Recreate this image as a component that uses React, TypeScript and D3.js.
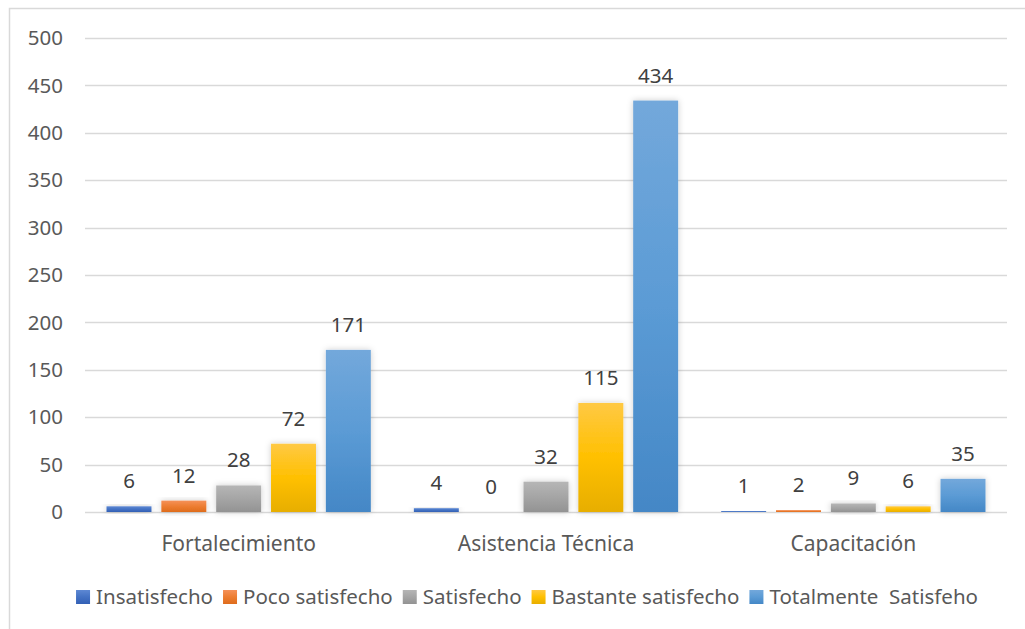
import React, { useEffect, useRef } from 'react';
import * as d3 from 'd3';

const categories = ['Fortalecimiento', 'Asistencia Técnica', 'Capacitación'];
const seriesNames = ['Insatisfecho', 'Poco satisfecho', 'Satisfecho', 'Bastante satisfecho', 'Totalmente  Satisfeho'];
const insatisfecho = [6, 4, 1];
const pocoSatisfecho = [12, 0, 2];
const satisfecho = [28, 32, 9];
const bastanteSatisfecho = [72, 115, 6];
const totalmenteSatisfecho = [171, 434, 35];
const yTicks = [0, 50, 100, 150, 200, 250, 300, 350, 400, 450, 500];

const seriesValues = [insatisfecho, pocoSatisfecho, satisfecho, bastanteSatisfecho, totalmenteSatisfecho];

// top / middle / bottom of each bar gradient
const gradients = [
    ['#5D88D3', '#4472C4', '#3360B5'],
    ['#F59159', '#ED7D31', '#DE6C1C'],
    ['#B6B6B6', '#A5A5A5', '#939393'],
    ['#FFC944', '#FFC000', '#E7AE00'],
    ['#73A8DB', '#5B9BD5', '#4487C6']
];

const WIDTH = 1025;
const HEIGHT = 629;
const FONT = '"Noto Sans", "Open Sans", sans-serif';

const App = () => {
    const svgRef = useRef<SVGSVGElement | null>(null);

    useEffect(() => {
        if (!svgRef.current) return;
        const svg = d3.select(svgRef.current);
        svg.selectAll('*').remove();

        const margin = { top: 38, right: 18, bottom: 117, left: 85 };
        const plotBottom = HEIGHT - margin.bottom;

        const x0 = d3.scaleBand()
            .domain(categories)
            .range([margin.left, WIDTH - margin.right])
            .paddingInner(0.14)
            .paddingOuter(0.07);

        const x1 = d3.scaleBand()
            .domain(seriesNames)
            .range([0, x0.bandwidth()])
            .paddingInner(0.18);

        const y = d3.scaleLinear()
            .domain([0, 500])
            .range([plotBottom, margin.top]);

        const defs = svg.append('defs');
        gradients.forEach((g, i) => {
            const lg = defs.append('linearGradient')
                .attr('id', `grad${i}`)
                .attr('x1', 0).attr('y1', 0).attr('x2', 0).attr('y2', 1);
            lg.append('stop').attr('offset', '0%').attr('stop-color', g[0]);
            lg.append('stop').attr('offset', '50%').attr('stop-color', g[1]);
            lg.append('stop').attr('offset', '100%').attr('stop-color', g[2]);
        });
        const shadow = defs.append('filter')
            .attr('id', 'barShadow')
            .attr('x', '-30%').attr('y', '-30%').attr('width', '160%').attr('height', '160%');
        shadow.append('feDropShadow')
            .attr('dx', 0).attr('dy', 0)
            .attr('stdDeviation', 3)
            .attr('flood-color', '#000')
            .attr('flood-opacity', 0.2);

        // chart frame
        svg.append('rect')
            .attr('x', 9.5).attr('y', 8.5)
            .attr('width', WIDTH + 20).attr('height', HEIGHT + 20)
            .attr('fill', '#fff')
            .attr('stroke', '#d9d9d9')
            .attr('stroke-width', 1.5);

        // gridlines
        svg.append('g')
            .selectAll('line')
            .data(yTicks)
            .join('line')
            .attr('x1', margin.left)
            .attr('x2', WIDTH - margin.right)
            .attr('y1', d => Math.round(y(d)) + 0.5)
            .attr('y2', d => Math.round(y(d)) + 0.5)
            .attr('stroke', '#d9d9d9')
            .attr('stroke-width', 1.5);

        // y tick labels
        svg.append('g')
            .selectAll('text')
            .data(yTicks)
            .join('text')
            .attr('x', margin.left - 22)
            .attr('y', d => y(d))
            .attr('dy', '0.35em')
            .attr('text-anchor', 'end')
            .attr('fill', '#595959')
            .style('font-family', FONT)
            .style('font-size', '20.5px')
            .text(d => d);

        // bars
        seriesNames.forEach((name, si) => {
            const rows = categories.map((c, ci) => ({ c, v: seriesValues[si][ci] }));
            const g = svg.append('g');
            g.selectAll('rect')
                .data(rows)
                .join('rect')
                .attr('x', d => (x0(d.c) ?? 0) + (x1(name) ?? 0))
                .attr('y', d => y(d.v))
                .attr('width', x1.bandwidth())
                .attr('height', d => y(0) - y(d.v))
                .attr('fill', `url(#grad${si})`)
                .attr('filter', d => y(0) - y(d.v) > 3 ? 'url(#barShadow)' : null);

            g.selectAll('text')
                .data(rows)
                .join('text')
                .attr('x', d => (x0(d.c) ?? 0) + (x1(name) ?? 0) + x1.bandwidth() / 2)
                .attr('y', d => y(d.v) - 18)
                .attr('text-anchor', 'middle')
                .attr('fill', '#404040')
                .style('font-family', FONT)
                .style('font-size', '20.5px')
                .text(d => d.v);
        });

        // category labels
        svg.append('g')
            .selectAll('text')
            .data(categories)
            .join('text')
            .attr('x', d => (x0(d) ?? 0) + x0.bandwidth() / 2)
            .attr('y', plotBottom + 39)
            .attr('text-anchor', 'middle')
            .attr('fill', '#595959')
            .style('font-family', FONT)
            .style('font-size', '21px')
            .text(d => d);

        // legend
        const legend = svg.append('g');
        let cursor = 0;
        seriesNames.forEach((name, i) => {
            const item = legend.append('g').attr('transform', `translate(${cursor},0)`);
            item.append('rect')
                .attr('x', 0).attr('y', -7)
                .attr('width', 14).attr('height', 14)
                .attr('fill', `url(#grad${i})`);
            const t = item.append('text')
                .attr('x', 20)
                .attr('dy', '0.35em')
                .attr('fill', '#595959')
                .style('font-family', FONT)
                .style('font-size', '20.5px')
                .style('white-space', 'pre')
                .attr('xml:space', 'preserve')
                .text(name);
            const w = (t.node() as SVGTextElement).getComputedTextLength();
            cursor += 20 + w + 10;
        });
        const legendWidth = cursor - 10;
        legend.attr('transform', `translate(${527 - legendWidth / 2},597)`);
    }, []);

    return (
        <svg
            ref={svgRef}
            width={WIDTH}
            height={HEIGHT}
            style={{ position: 'absolute', left: 0, top: 0, background: '#fff' }}
        />
    );
};

export default App;
